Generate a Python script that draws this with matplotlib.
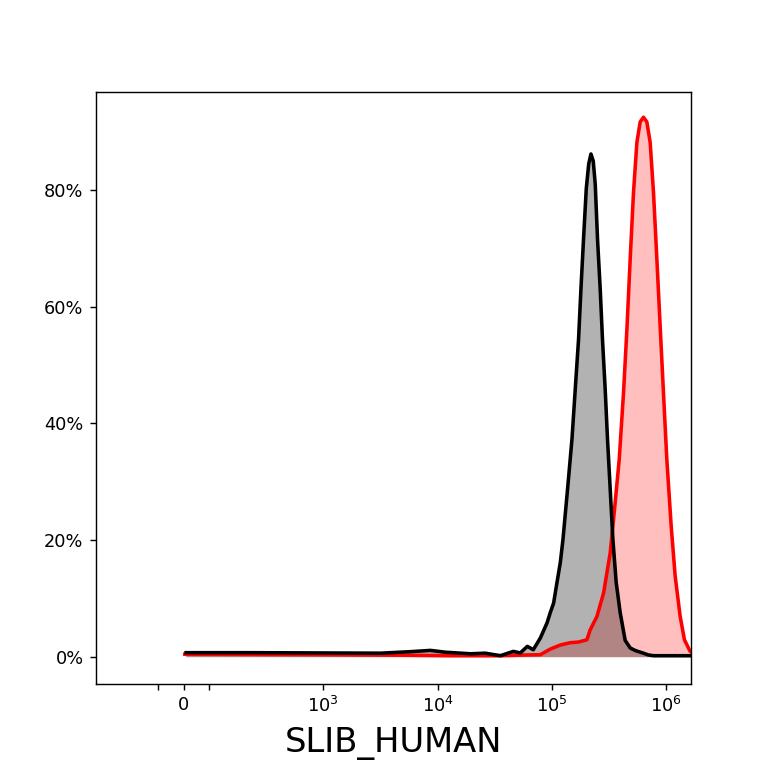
import numpy as np
import matplotlib
matplotlib.use('Agg')
import matplotlib.pyplot as plt
from matplotlib.ticker import FixedLocator, PercentFormatter


# smoothed histograms (fluorescence, % of max count)
ctrl_x = [10, 231, 1000, 3170, 5800, 8660, 11700, 19400, 26200, 35500,
          46100, 53000, 61100, 68900, 79400, 90900, 97000, 103800, 111000,
          118700, 125300, 137400, 150200, 160400, 171500, 179900, 189600,
          200300, 210500, 220200, 230600, 240100, 251400, 265400, 277800,
          293500, 307400, 324600, 342600, 366300, 396900, 438800, 485300,
          520000, 547900, 590000, 634500, 700000, 776000, 1.7e6]
ctrl_y = [0.69, 0.69, 0.64, 0.60, 0.86, 1.08, 0.77, 0.5, 0.6, 0.17,
          0.91, 0.64, 1.77, 1.2, 3.2, 5.8, 7.55, 9.2, 12.7,
          16.1, 20.1, 28.7, 37.3, 45.8, 54.4, 63.0, 71.6,
          80.2, 84.5, 86.2, 85.0, 81.0, 71.6, 63.0, 54.4,
          45.8, 37.3, 28.7, 20.1, 12.7, 7.55, 2.8, 1.5,
          1.2, 1.0, 0.8, 0.6, 0.3, 0.17, 0.17]

slib_x = [5, 1000, 4740, 12900, 35500, 60000, 79400, 97000, 118700,
          145100, 170000, 203000, 216800, 248400, 283900, 324600, 353800,
          389200, 424600, 454300, 485600, 519000, 555800, 594000, 634600,
          679000, 726000, 776500, 831000, 888000, 949000, 1.016e6, 1.109e6,
          1.202e6, 1.329e6, 1.449e6, 1.625e6, 2.0e6]
slib_y = [0.43, 0.34, 0.26, 0.17, 0.17, 0.3, 0.34, 1.3, 2.0,
          2.4, 2.5, 2.9, 4.6, 6.9, 10.9, 17.8, 25.2,
          33.8, 45.3, 56.1, 68.2, 79.6, 88.2, 91.7, 92.5,
          91.7, 88.2, 79.6, 68.2, 56.7, 45.3, 33.8, 22.4,
          13.8, 6.9, 2.9, 0.9, 0.3]

major_ticks = [0, 1e3, 1e4, 1e5, 1e6]
major_labels = ['0', '$10^{3}$', '$10^{4}$', '$10^{5}$', '$10^{6}$']
minor_ticks = [-100, 100]

fig, ax = plt.subplots(figsize=(6, 6), dpi=128)

ax.fill_between(slib_x, 0, slib_y, color='red', alpha=0.25, linewidth=0)
ax.fill_between(ctrl_x, 0, ctrl_y, color='black', alpha=0.3, linewidth=0)
ax.plot(slib_x, slib_y, color='red', linewidth=2)
ax.plot(ctrl_x, ctrl_y, color='black', linewidth=2)

ax.set_xscale('symlog', linthresh=100, linscale=0.2)
ax.set_xlim(-350, 1.66e6)
ax.set_ylim(-4.6, 96.8)

ax.xaxis.set_major_locator(FixedLocator(major_ticks))
ax.set_xticklabels(major_labels)
ax.xaxis.set_minor_locator(FixedLocator(minor_ticks))
ax.tick_params(axis='x', which='minor', length=3.5, width=0.8)
ax.set_yticks([0, 20, 40, 60, 80])
ax.yaxis.set_major_formatter(PercentFormatter(xmax=100, decimals=0))

ax.set_xlabel('SLIB_HUMAN', fontsize=19, labelpad=6)

fig.savefig('out.png', dpi=128)
